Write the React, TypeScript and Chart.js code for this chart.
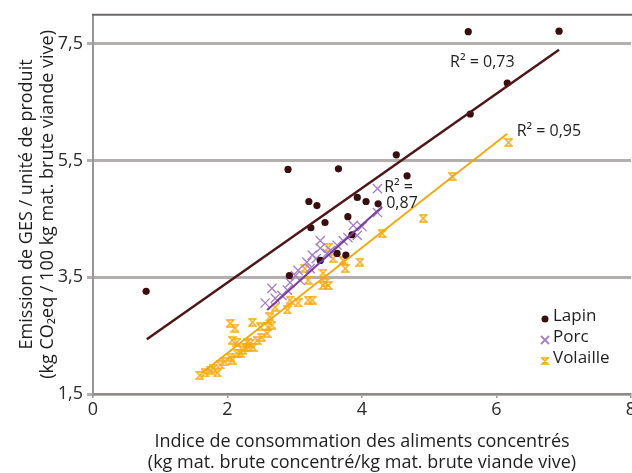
import React, { useEffect, useRef } from 'react';
import { Chart, registerables } from 'chart.js';

Chart.register(...registerables);

const FONT = '"Open Sans", Lato, sans-serif';

// ---- Data ----
const lapinX = [0.79, 2.9, 3.65, 4.51, 4.67, 3.21, 3.33, 3.93, 4.06, 4.24, 3.45, 3.79, 3.24, 3.85, 3.63, 3.76, 3.38, 2.92, 5.58, 6.93, 6.16, 5.61];
const lapinY = [3.26, 5.35, 5.36, 5.6, 5.24, 4.8, 4.73, 4.87, 4.8, 4.76, 4.44, 4.54, 4.35, 4.23, 3.91, 3.88, 3.79, 3.53, 7.71, 7.72, 6.83, 6.3];

const porcX = [2.56, 2.66, 2.71, 2.81, 2.89, 2.93, 3.01, 3.08, 3.05, 3.18, 3.23, 3.26, 3.32, 3.38, 3.38, 3.48, 3.53, 3.63, 3.72, 3.79, 3.87, 3.93, 4.0, 4.23, 4.23];
const porcY = [3.06, 3.31, 3.14, 3.19, 3.28, 3.41, 3.53, 3.45, 3.62, 3.76, 3.65, 3.88, 3.82, 4.13, 4.0, 3.91, 3.96, 4.05, 4.13, 4.18, 4.39, 4.22, 4.37, 4.61, 5.02];

const volailleX = [1.59, 1.67, 1.74, 1.79, 1.85, 1.89, 1.96, 2.04, 2.07, 2.14, 2.19, 2.23, 2.26, 2.31, 2.34, 2.38, 2.44, 2.51, 2.59, 2.49, 2.37, 2.63, 2.66, 2.6, 2.71, 2.89, 2.93, 3.05, 3.2, 3.15, 3.2, 3.26, 3.42, 3.45, 3.5, 3.42, 3.5, 3.57, 3.72, 3.75, 3.97, 4.3, 4.91, 5.34, 6.18, 2.04, 2.11, 2.07, 2.14, 2.29];
const volailleY = [1.82, 1.86, 1.91, 1.94, 1.86, 2.0, 2.05, 2.13, 2.08, 2.2, 2.2, 2.25, 2.3, 2.3, 2.37, 2.3, 2.42, 2.47, 2.54, 2.65, 2.73, 2.82, 2.68, 2.65, 2.99, 2.94, 3.11, 3.06, 3.11, 3.65, 3.45, 3.11, 3.36, 3.41, 3.36, 3.57, 4.01, 3.82, 3.79, 3.65, 3.76, 4.25, 4.51, 5.23, 5.81, 2.71, 2.63, 2.42, 2.39, 2.39];

const lapinTrendX = [0.8, 6.93];
const lapinTrendY = [2.44, 7.4];
const porcTrendX = [2.59, 4.3];
const porcTrendY = [2.94, 4.71];
const volailleTrendX = [1.62, 6.16];
const volailleTrendY = [1.86, 5.96];

const seriesNames = ['Lapin', 'Porc', 'Volaille'];
const yTicks = [1.5, 3.5, 5.5, 7.5];
const r2Texts = ['R² = 0,73', 'R² = 0,95', 'R² =', '0,87'];
const r2AnchorX = [5.31, 6.3, 4.33, 4.36];
const r2AnchorY = [7.18, 6.0, 5.04, 4.76];

const xTitle = ['Indice de consommation des aliments concentrés', '(kg mat. brute concentré/kg mat. brute viande vive)'];
const yTitle = ['Emission de GES / unité de produit', '(kg CO₂eq / 100 kg mat. brute viande vive)'];

// ---- Colours ----
const C_LAPIN = '#3a0e0e';
const C_LAPIN_LINE = '#4e1717';
const C_PORC = '#a57fc8';
const C_PORC_LINE = '#7a3d9e';
const C_VOL = '#f5ab14';
const C_VOL_LINE = '#f4a70a';

function pts(xs: number[], ys: number[]) {
  return xs.map((x, i) => ({ x, y: ys[i] }));
}

function drawHourglass(g: CanvasRenderingContext2D, cx: number, cy: number, s: number, color: string, lw: number) {
  const h = s / 2;
  g.save();
  g.strokeStyle = color;
  g.lineWidth = lw;
  g.beginPath();
  g.moveTo(cx - h, cy - h);
  g.lineTo(cx + h, cy - h);
  g.lineTo(cx - h, cy + h);
  g.lineTo(cx + h, cy + h);
  g.closePath();
  g.stroke();
  g.restore();
}

function hourglassImage(size: number, color: string) {
  const c = document.createElement('canvas');
  c.width = size;
  c.height = size;
  const g = c.getContext('2d')!;
  drawHourglass(g, size / 2, size / 2, size - 2, color, 1.4);
  return c;
}

const annotationPlugin = {
  id: 'annot',
  afterDatasetsDraw(chart: any) {
    const { ctx, chartArea, scales } = chart;
    const xs = scales.x;
    const ys = scales.y;
    ctx.save();
    // top frame line
    ctx.strokeStyle = '#6d6868';
    ctx.lineWidth = 2;
    ctx.beginPath();
    ctx.moveTo(chartArea.left - 1, chartArea.top);
    ctx.lineTo(chartArea.right + 10, chartArea.top);
    ctx.stroke();

    // R² labels
    ctx.fillStyle = '#1e1e1e';
    ctx.font = `16px ${FONT}`;
    ctx.textAlign = 'left';
    ctx.textBaseline = 'middle';
    r2Texts.forEach((t, i) => {
      ctx.fillText(t, xs.getPixelForValue(r2AnchorX[i]), ys.getPixelForValue(r2AnchorY[i]));
    });

    // legend
    const lx = chartArea.right - 86;
    const ly = chartArea.bottom - 78;
    const colors = [C_LAPIN, C_PORC, C_VOL];
    seriesNames.forEach((name, i) => {
      const y = ly + i * 21;
      const mx = lx;
      const my = y + 3;
      if (i === 0) {
        ctx.fillStyle = colors[i];
        ctx.beginPath();
        ctx.arc(mx, my, 3.5, 0, Math.PI * 2);
        ctx.fill();
      } else if (i === 1) {
        ctx.strokeStyle = colors[i];
        ctx.lineWidth = 1.8;
        ctx.beginPath();
        ctx.moveTo(mx - 4, my - 4);
        ctx.lineTo(mx + 4, my + 4);
        ctx.moveTo(mx + 4, my - 4);
        ctx.lineTo(mx - 4, my + 4);
        ctx.stroke();
      } else {
        drawHourglass(ctx, mx, my, 6, colors[i], 1.6);
      }
      ctx.fillStyle = '#1e1e1e';
      ctx.font = `17px ${FONT}`;
      ctx.fillText(name, lx + 8, y);
    });
    ctx.restore();
  },
};

export default function App() {
  const ref = useRef<HTMLCanvasElement | null>(null);

  useEffect(() => {
    if (!ref.current) return;
    const volImg = hourglassImage(9, C_VOL);
    const chart = new Chart(ref.current, {
      type: 'scatter',
      data: {
        datasets: [
          {
            type: 'line',
            label: 'Lapin trend',
            data: pts(lapinTrendX, lapinTrendY),
            borderColor: C_LAPIN_LINE,
            borderWidth: 2.5,
            pointRadius: 0,
            showLine: true,
          },
          {
            type: 'line',
            label: 'Porc trend',
            data: pts(porcTrendX, porcTrendY),
            borderColor: C_PORC_LINE,
            borderWidth: 2,
            pointRadius: 0,
            showLine: true,
          },
          {
            type: 'line',
            label: 'Volaille trend',
            data: pts(volailleTrendX, volailleTrendY),
            borderColor: C_VOL_LINE,
            borderWidth: 1.8,
            pointRadius: 0,
            showLine: true,
          },
          {
            label: seriesNames[0],
            data: pts(lapinX, lapinY),
            pointStyle: 'circle',
            pointRadius: 3.6,
            backgroundColor: C_LAPIN,
            borderColor: C_LAPIN,
            borderWidth: 0,
          },
          {
            label: seriesNames[1],
            data: pts(porcX, porcY),
            pointStyle: 'crossRot',
            pointRadius: 6.5,
            borderColor: C_PORC,
            borderWidth: 1.3,
          },
          {
            label: seriesNames[2],
            data: pts(volailleX, volailleY),
            pointStyle: volImg as any,
            pointRadius: 4.5,
            borderColor: C_VOL,
            backgroundColor: C_VOL,
          },
        ],
      },
      options: {
        animation: false,
        responsive: false,
        events: [],
        layout: { padding: { top: 14, right: 9, left: 0, bottom: 0 } },
        plugins: {
          legend: { display: false },
          tooltip: { enabled: false },
        },
        scales: {
          x: {
            type: 'linear',
            min: 0,
            max: 8,
            ticks: {
              stepSize: 2,
              color: '#2a2a2a',
              font: { family: FONT, size: 18 },
              padding: 1,
              callback: (v: any) => String(v),
            },
            grid: {
              drawOnChartArea: false,
              drawTicks: true,
              tickLength: 4,
              color: '#9a9696',
              lineWidth: 1.5,
            },
            border: { display: true, color: '#8e8a8a', width: 2 },
            title: {
              display: true,
              text: xTitle,
              color: '#1e1e1e',
              font: { family: FONT, size: 18, lineHeight: 1.17 },
              padding: { top: 0, bottom: 0 },
            },
            afterFit: (s: any) => {
              s.height = 79;
            },
          },
          y: {
            type: 'linear',
            min: 1.5,
            max: 8,
            afterBuildTicks: (s: any) => {
              s.ticks = yTicks.map((v) => ({ value: v }));
            },
            ticks: {
              color: '#2a2a2a',
              font: { family: FONT, size: 18 },
              padding: 4,
              callback: (v: any) => Number(v).toFixed(1).replace('.', ','),
            },
            grid: {
              drawOnChartArea: true,
              drawTicks: true,
              tickLength: 6,
              color: '#b3afae',
              lineWidth: 3,
            },
            border: { display: true, color: '#9a9696', width: 2 },
            title: {
              display: true,
              text: yTitle,
              color: '#1e1e1e',
              font: { family: FONT, size: 18, lineHeight: 1.17 },
              padding: { top: 16.5, bottom: 0 },
            },
            afterFit: (s: any) => {
              s.width = 93;
            },
          },
        },
      },
      plugins: [annotationPlugin],
    } as any);
    return () => chart.destroy();
  }, []);

  return (
    <div
      style={{
        position: 'fixed',
        left: 0,
        top: 0,
        width: 632,
        height: 473,
        overflow: 'hidden',
        background: '#fff',
      }}
    >
      <canvas ref={ref} width={640} height={473} style={{ width: 640, height: 473, display: 'block' }} />
    </div>
  );
}
